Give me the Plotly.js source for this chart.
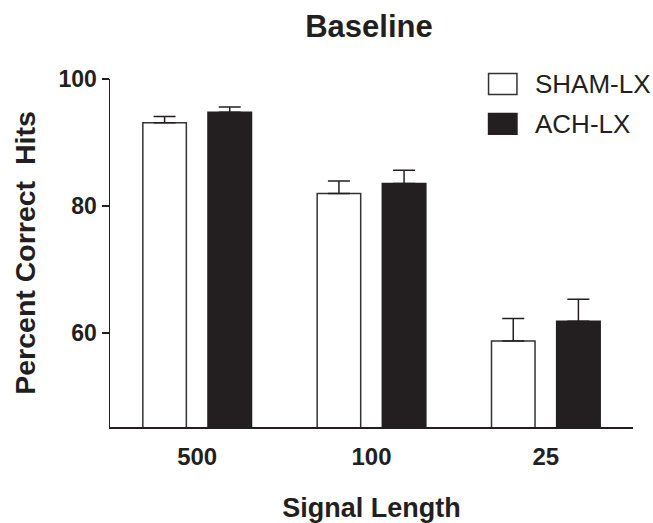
<!DOCTYPE html>
<html>
<head>
<meta charset="utf-8">
<script src="https://cdn.plot.ly/plotly-3.0.1.min.js"></script>
<style>html,body{margin:0;padding:0;background:#fff;}#chart{width:653px;height:523px;}</style>
</head>
<body>
<div id="chart"></div>
<script>
const categories = ["500", "100", "25"];
const seriesNames = ["SHAM-LX", "ACH-LX"];
const shamValues = [93.1, 81.95, 58.75];
const shamErrors = [1.0, 2.0, 3.55];
const achValues = [94.75, 83.55, 61.85];
const achErrors = [0.85, 2.1, 3.45];
const yTickValues = [60, 80, 100];

const ink = "#231f20";
const fontFam = "Liberation Sans, Arial, Helvetica, sans-serif";

const traces = [
  {
    type: "bar", name: seriesNames[0], x: categories, y: shamValues,
    marker: {color: "#ffffff", line: {color: "#333333", width: 1.5}},
    error_y: {type: "data", symmetric: false, array: shamErrors, arrayminus: shamErrors.map(() => 0),
      color: ink, thickness: 1.5, width: 11},
    showlegend: false
  },
  {
    type: "bar", name: seriesNames[1], x: categories, y: achValues,
    marker: {color: ink, line: {color: ink, width: 1.5}},
    error_y: {type: "data", symmetric: false, array: achErrors, arrayminus: achErrors.map(() => 0),
      color: ink, thickness: 1.5, width: 11},
    showlegend: false
  }
];

const legendFill = ["#ffffff", ink];
const legendLine = ["#333333", ink];
const rowY = [[0.9552, 1.0155], [0.8411, 0.9006]];
const shapes = seriesNames.map((n, i) => ({
  type: "rect", xref: "paper", yref: "paper",
  x0: 0.7238, x1: 0.7781, y0: rowY[i][0], y1: rowY[i][1],
  fillcolor: legendFill[i], line: {color: legendLine[i], width: 1.5}
}));
const annotations = seriesNames.map((n, i) => ({
  xref: "paper", yref: "paper", x: 0.8087, y: (rowY[i][0] + rowY[i][1]) / 2,
  xanchor: "left", yanchor: "middle", text: n, showarrow: false,
  font: {family: fontFam, size: 26, color: ink}
}));

const layout = {
  width: 653, height: 523,
  margin: {l: 110, r: 20, t: 79, b: 96, pad: 0},
  paper_bgcolor: "#ffffff", plot_bgcolor: "#ffffff",
  title: {text: "Baseline", x: 0.565, xanchor: "center", y: 0.95, yanchor: "middle",
    font: {family: fontFam, size: 31, weight: "bold", color: ink}},
  barmode: "group", bargap: 0.2526, bargroupgap: 0.332,
  xaxis: {
    type: "category", range: [-0.5, 2.5],
    showline: true, linecolor: ink, linewidth: 1.5,
    ticks: "", showgrid: false, zeroline: false,
    ticklabelstandoff: 8,
    tickfont: {family: fontFam, size: 24, weight: "bold", color: ink},
    title: {text: "Signal Length", standoff: 38,
      font: {family: fontFam, size: 27, weight: "bold", color: ink}}
  },
  yaxis: {
    range: [45.2, 100], tickvals: yTickValues,
    showline: true, linecolor: ink, linewidth: 1.5,
    ticks: "outside", ticklen: 7, tickwidth: 1.5, tickcolor: ink,
    showgrid: false, zeroline: false,
    tickfont: {family: fontFam, size: 23, weight: "bold", color: ink},
    title: {text: "Percent Correct  Hits", standoff: 14,
      font: {family: fontFam, size: 28.5, weight: "bold", color: ink}}
  },
  shapes: shapes,
  annotations: annotations,
  font: {family: fontFam, color: ink}
};

Plotly.newPlot("chart", traces, layout, {displayModeBar: false, staticPlot: true});
</script>
</body>
</html>
